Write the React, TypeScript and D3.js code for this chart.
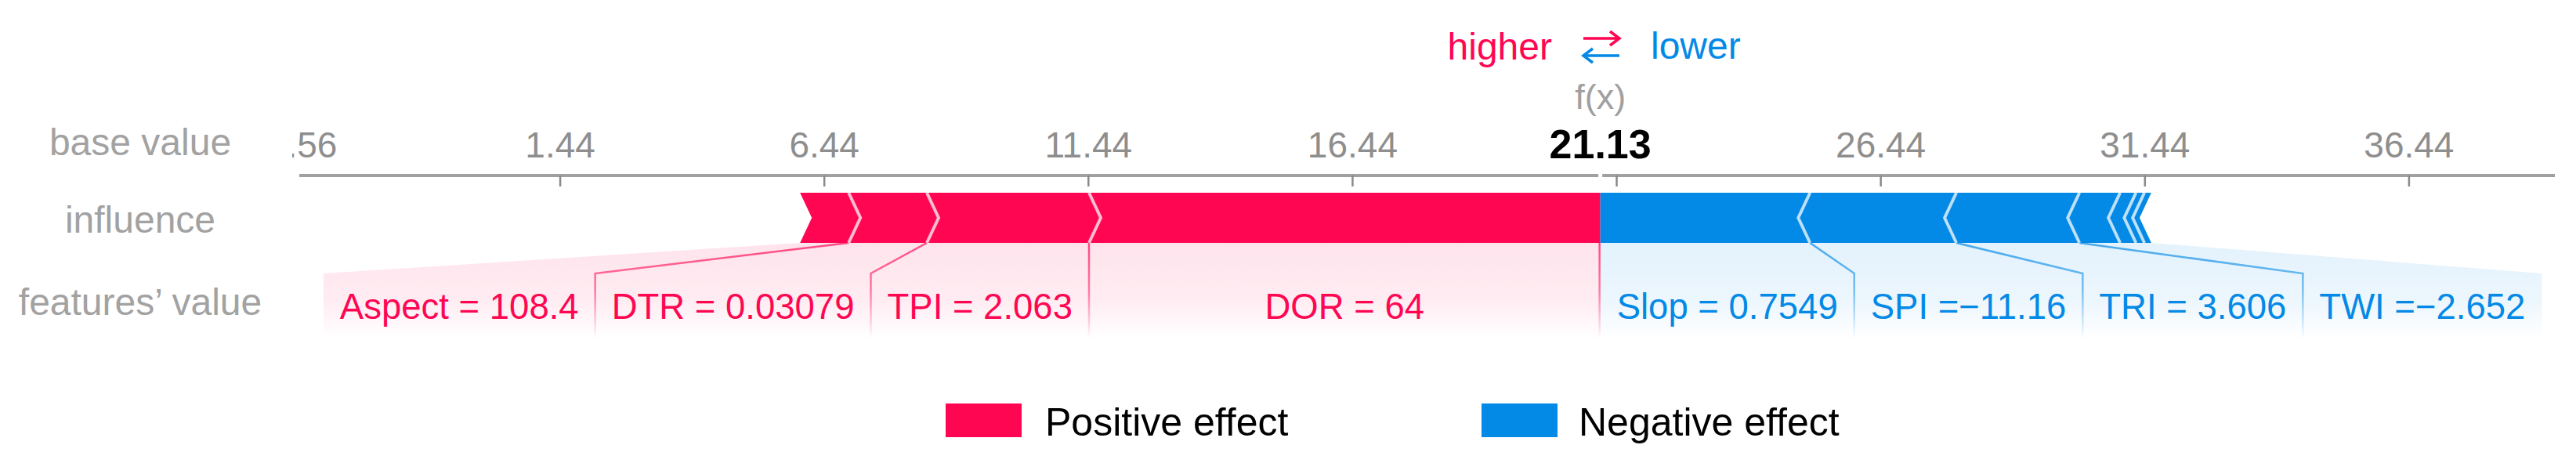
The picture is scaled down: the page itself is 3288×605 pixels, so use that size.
import React from "react";
import * as d3 from "d3";

// ---------------- data ----------------
const fxValue = 21.13;
const fxLabel = "21.13";
const axisDomain = [-3.5, 39.2];
const tickValues = [-3.56, 1.44, 6.44, 11.44, 16.44, 21.44, 26.44, 31.44, 36.44];
const tickLabels = ["-3.56", "1.44", "6.44", "11.44", "16.44", "21.44", "26.44", "31.44", "36.44"];

// positive effects, ordered outward from f(x)
const posNames = ["DOR", "TPI", "DTR", "Aspect"];
const posValues = ["64", "2.063", "0.03079", "108.4"];
const posEffects = [9.68, 3.07, 1.48, 0.92];

// negative effects, ordered outward from f(x) (last three are unlabeled)
const negNames = ["Slop", "SPI", "TRI", "TWI", "", "", ""];
const negValues = ["0.7549", "\u221211.16", "3.606", "\u22122.652", "", "", ""];
const negEffects = [3.97, 2.77, 2.33, 0.77, 0.3, 0.16, 0.13];

const rowLabels = ["base value", "influence", "features\u2019 value"];
const legendLabels = ["Positive effect", "Negative effect"];

const RED = "#ff0653";
const BLUE = "#0389e6";
const FONT = "'Liberation Sans', Arial, Helvetica, sans-serif";

let _ctx: CanvasRenderingContext2D | null = null;
function measure(text: string, size: number, weight = "normal") {
  if (!_ctx) _ctx = document.createElement("canvas").getContext("2d");
  if (!_ctx) return text.length * size * 0.5;
  _ctx.font = `${weight} ${size}px ${FONT}`;
  return _ctx.measureText(text).width;
}

function labelText(name: string, value: string) {
  return value.startsWith("\u2212") ? `${name} =${value}` : `${name} = ${value}`;
}

export default function App() {
  const W = 3288;
  const H = 605;
  const x = d3.scaleLinear().domain(axisDomain).range([382, 3261]);

  const axisY = 224;
  const barTop = 246;
  const barBot = 310;
  const barMid = (barTop + barBot) / 2;
  const notch = 15;
  const labelTop = 349;
  const fadeBottom = 432;
  const textBase = 407;
  const labelSize = 45.5;
  const pad = 21;

  const poly = d3.line();
  const fxX = x(fxValue);

  // positive segments
  let cur = fxValue;
  const posSegs = posEffects.map((e, i) => {
    const hi = cur;
    const lo = cur - e;
    cur = lo;
    return { i, lo, hi, name: posNames[i], value: posValues[i] };
  });
  cur = fxValue;
  const negSegs = negEffects.map((e, i) => {
    const lo = cur;
    const hi = cur + e;
    cur = hi;
    return { i, lo, hi, name: negNames[i], value: negValues[i] };
  });

  // label layout (positive: leftwards from f(x))
  let bound = fxX;
  const posLabels = posSegs
    .filter((s) => s.name)
    .map((s) => {
      const txt = labelText(s.name, s.value);
      const w = measure(txt, labelSize);
      const barC = (x(s.lo) + x(s.hi)) / 2;
      const c = Math.min(barC, bound - pad - w / 2);
      const left = Math.min(x(s.lo), c - w / 2 - pad);
      const r = { txt, c, left, right: bound, barRight: x(s.hi), i: s.i };
      bound = left;
      return r;
    });
  const posRegionLeft = bound;

  bound = fxX;
  const negLabels = negSegs
    .filter((s) => s.name)
    .map((s) => {
      const txt = labelText(s.name, s.value);
      const w = measure(txt, labelSize);
      const barC = (x(s.lo) + x(s.hi)) / 2;
      const c = Math.max(barC, bound + pad + w / 2);
      const right = Math.max(x(s.hi), c + w / 2 + pad);
      const r = { txt, c, left: bound, right, barLeft: x(s.lo), i: s.i };
      bound = right;
      return r;
    });
  const negRegionRight = bound;

  const posBarLeft = x(posSegs[posSegs.length - 1].lo);
  const negBarRight = x(negSegs[negSegs.length - 1].hi);

  const posShape = (s: any): [number, number][] => {
    const x0 = x(s.lo);
    const x1 = x(s.hi);
    if (s.i === 0)
      return [[x0, barTop], [x1, barTop], [x1, barBot], [x0, barBot], [x0 + notch, barMid]];
    return [[x0, barTop], [x1, barTop], [x1 + notch, barMid], [x1, barBot], [x0, barBot], [x0 + notch, barMid]];
  };
  const negShape = (s: any): [number, number][] => {
    const x0 = x(s.lo);
    const x1 = x(s.hi);
    if (s.i === 0)
      return [[x0, barTop], [x1, barTop], [x1 - notch, barMid], [x1, barBot], [x0, barBot]];
    return [[x0, barTop], [x1, barTop], [x1 - notch, barMid], [x1, barBot], [x0, barBot], [x0 - notch, barMid]];
  };

  const rowX = 179;
  const rowSize = 48;
  const rowY = [198, 297, 402];

  return (
    <svg
      width={W}
      height={H}
      style={{ position: "absolute", left: 0, top: 0, background: "#fff" }}
      fontFamily={FONT}
    >
      <defs>
        <linearGradient id="redBg" gradientUnits="userSpaceOnUse" x1="0" y1={barBot} x2="0" y2={fadeBottom}>
          <stop offset="0" stopColor={RED} stopOpacity={0.11} />
          <stop offset="0.6" stopColor={RED} stopOpacity={0.075} />
          <stop offset="1" stopColor={RED} stopOpacity={0} />
        </linearGradient>
        <linearGradient id="blueBg" gradientUnits="userSpaceOnUse" x1="0" y1={barBot} x2="0" y2={fadeBottom}>
          <stop offset="0" stopColor={BLUE} stopOpacity={0.11} />
          <stop offset="0.6" stopColor={BLUE} stopOpacity={0.075} />
          <stop offset="1" stopColor={BLUE} stopOpacity={0} />
        </linearGradient>
        <linearGradient id="redLine" gradientUnits="userSpaceOnUse" x1="0" y1={barBot} x2="0" y2={fadeBottom}>
          <stop offset="0" stopColor={RED} stopOpacity={0.7} />
          <stop offset="0.5" stopColor={RED} stopOpacity={0.5} />
          <stop offset="1" stopColor={RED} stopOpacity={0} />
        </linearGradient>
        <linearGradient id="blueLine" gradientUnits="userSpaceOnUse" x1="0" y1={barBot} x2="0" y2={fadeBottom}>
          <stop offset="0" stopColor={BLUE} stopOpacity={0.7} />
          <stop offset="0.5" stopColor={BLUE} stopOpacity={0.5} />
          <stop offset="1" stopColor={BLUE} stopOpacity={0} />
        </linearGradient>
        <clipPath id="tickClip">
          <rect x={373} y={0} width={W - 373} height={H} />
        </clipPath>
      </defs>

      {/* higher / lower header */}
      <text x={1981} y={76} fontSize={48} fill={RED} textAnchor="end">higher</text>
      <path d="M2021,49 H2067 M2055,40 L2067,49 L2055,58" stroke={RED} strokeWidth={3.5} fill="none" />
      <path d="M2067,71 H2021 M2033,62 L2021,71 L2033,80" stroke={BLUE} strokeWidth={3.5} fill="none" />
      <text x={2107} y={75} fontSize={48} fill={BLUE}>lower</text>

      {/* row labels */}
      {rowLabels.map((t, i) => (
        <text key={t} x={rowX} y={rowY[i]} fontSize={rowSize} fill="#a2a2a2" textAnchor="middle">
          {t}
        </text>
      ))}

      {/* axis */}
      <line x1={x.range()[0]} x2={x.range()[1]} y1={axisY} y2={axisY} stroke="#a0a0a0" strokeWidth={4} />
      {tickValues
        .filter((v) => v >= axisDomain[0] && v <= axisDomain[1])
        .map((v) => (
          <line key={"t" + v} x1={x(v)} x2={x(v)} y1={axisY} y2={axisY + 14} stroke="#8a8a8a" strokeWidth={2.5} />
        ))}
      <g clipPath="url(#tickClip)">
        {tickValues.map((v, i) =>
          Math.abs(x(v) - fxX) < 90 ? null : (
            <text key={"l" + v} x={x(v)} y={201} fontSize={46} fill="#8e8e8e" textAnchor="middle">
              {tickLabels[i]}
            </text>
          )
        )}
      </g>
      <line x1={fxX} x2={fxX} y1={212} y2={barTop} stroke="#fff" strokeWidth={5} />
      <text x={fxX} y={139} fontSize={45} fill="#a0a0a0" textAnchor="middle">f(x)</text>
      <text x={fxX} y={202} fontSize={52} fontWeight="bold" fill="#000" textAnchor="middle">{fxLabel}</text>

      {/* label background regions */}
      <path
        d={poly([[posBarLeft, barBot], [fxX, barBot], [fxX, fadeBottom], [posRegionLeft, fadeBottom], [posRegionLeft, labelTop]]) + "Z"}
        fill="url(#redBg)"
      />
      <path
        d={poly([[fxX, barBot], [negBarRight, barBot], [negRegionRight, labelTop], [negRegionRight, fadeBottom], [fxX, fadeBottom]]) + "Z"}
        fill="url(#blueBg)"
      />

      {/* connector lines */}
      <line x1={fxX - 1} x2={fxX - 1} y1={barBot} y2={fadeBottom} stroke="url(#redLine)" strokeWidth={2.5} />
      {posLabels.slice(1).map((l) => (
        <path
          key={"pl" + l.i}
          d={poly([[l.barRight, barBot], [l.right, labelTop], [l.right, fadeBottom]]) || ""}
          fill="none"
          stroke="url(#redLine)"
          strokeWidth={2.5}
        />
      ))}
      {negLabels.slice(1).map((l) => (
        <path
          key={"nl" + l.i}
          d={poly([[l.barLeft, barBot], [l.left, labelTop], [l.left, fadeBottom]]) || ""}
          fill="none"
          stroke="url(#blueLine)"
          strokeWidth={2.5}
        />
      ))}

      {/* bars */}
      {posSegs.map((s) => (
        <path key={"pb" + s.i} d={poly(posShape(s)) + "Z"} fill={RED} />
      ))}
      {negSegs.map((s) => (
        <path key={"nb" + s.i} d={poly(negShape(s)) + "Z"} fill={BLUE} />
      ))}
      {/* separators */}
      {posSegs.slice(0, -1).map((s) => {
        const b = x(s.lo);
        return (
          <path
            key={"ps" + s.i}
            d={poly([[b, barTop], [b + notch, barMid], [b, barBot]]) || ""}
            fill="none"
            stroke="#fff"
            strokeOpacity={0.72}
            strokeWidth={4}
          />
        );
      })}
      {negSegs.slice(0, -1).map((s) => {
        const b = x(s.hi);
        return (
          <path
            key={"ns" + s.i}
            d={poly([[b, barTop], [b - notch, barMid], [b, barBot]]) || ""}
            fill="none"
            stroke="#fff"
            strokeOpacity={0.72}
            strokeWidth={4}
          />
        );
      })}

      {/* feature labels */}
      {posLabels.map((l) => (
        <text key={"pt" + l.i} x={l.c} y={textBase} fontSize={labelSize} fill={RED} textAnchor="middle">
          {l.txt}
        </text>
      ))}
      {negLabels.map((l) => (
        <text key={"nt" + l.i} x={l.c} y={textBase} fontSize={labelSize} fill={BLUE} textAnchor="middle">
          {l.txt}
        </text>
      ))}

      {/* legend */}
      <rect x={1207} y={515} width={97} height={43} fill={RED} />
      <text x={1334} y={556} fontSize={50} fill="#000">{legendLabels[0]}</text>
      <rect x={1891} y={515} width={97} height={43} fill={BLUE} />
      <text x={2015} y={556} fontSize={50} fill="#000">{legendLabels[1]}</text>
    </svg>
  );
}
